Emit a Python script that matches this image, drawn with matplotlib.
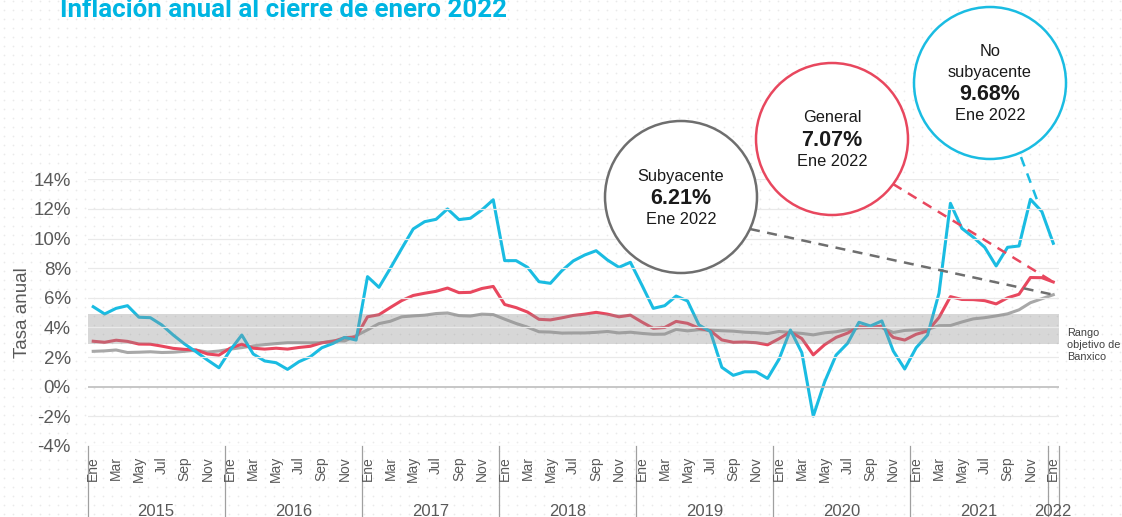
import numpy as np
import matplotlib
matplotlib.use("Agg")
import matplotlib.pyplot as plt
from matplotlib.patches import Circle

# --- data (annual inflation, %), Ene 2015 .. Ene 2022 ---
years = [2015, 2016, 2017, 2018, 2019, 2020, 2021, 2022]
month_names = ["Ene", "Feb", "Mar", "Abr", "May", "Jun",
               "Jul", "Ago", "Sep", "Oct", "Nov", "Dic"]

general = [
    3.07, 3.00, 3.14, 3.06, 2.88, 2.87, 2.74, 2.59, 2.52, 2.48, 2.21, 2.13,
    2.61, 2.87, 2.60, 2.54, 2.60, 2.54, 2.65, 2.73, 2.97, 3.06, 3.31, 3.36,
    4.72, 4.86, 5.35, 5.82, 6.16, 6.31, 6.44, 6.66, 6.35, 6.37, 6.63, 6.77,
    5.55, 5.34, 5.04, 4.55, 4.51, 4.65, 4.81, 4.90, 5.02, 4.90, 4.72, 4.83,
    4.37, 3.94, 4.00, 4.41, 4.28, 3.95, 3.78, 3.16, 3.00, 3.02, 2.97, 2.83,
    3.24, 3.70, 3.25, 2.15, 2.84, 3.33, 3.62, 4.05, 4.01, 4.09, 3.33, 3.15,
    3.54, 3.76, 4.67, 6.08, 5.89, 5.88, 5.81, 5.59, 6.00, 6.24, 7.37, 7.36,
    7.07]

subyacente = [
    2.39, 2.42, 2.48, 2.31, 2.33, 2.36, 2.31, 2.33, 2.39, 2.47, 2.34, 2.41,
    2.54, 2.64, 2.76, 2.84, 2.91, 2.97, 2.97, 2.96, 2.97, 3.10, 3.09, 3.44,
    3.84, 4.26, 4.42, 4.72, 4.78, 4.83, 4.94, 4.98, 4.80, 4.77, 4.90, 4.87,
    4.56, 4.27, 4.02, 3.71, 3.69, 3.62, 3.63, 3.63, 3.67, 3.73, 3.63, 3.68,
    3.60, 3.54, 3.55, 3.87, 3.77, 3.85, 3.82, 3.78, 3.75, 3.68, 3.65, 3.59,
    3.73, 3.66, 3.60, 3.50, 3.64, 3.71, 3.85, 3.97, 3.99, 3.98, 3.66, 3.80,
    3.84, 3.87, 4.12, 4.13, 4.37, 4.58, 4.66, 4.78, 4.92, 5.19, 5.67, 5.94,
    6.21]

no_subyacente = [
    5.40, 4.91, 5.29, 5.47, 4.69, 4.66, 4.17, 3.49, 2.88, 2.36, 1.80, 1.28,
    2.48, 3.49, 2.21, 1.74, 1.62, 1.17, 1.69, 2.03, 2.63, 2.93, 3.33, 3.15,
    7.43, 6.71, 8.00, 9.34, 10.65, 11.14, 11.30, 12.00, 11.28, 11.37, 11.93, 12.62,
    8.51, 8.51, 8.06, 7.09, 6.98, 7.83, 8.49, 8.89, 9.18, 8.55, 8.06, 8.40,
    6.87, 5.29, 5.47, 6.12, 5.79, 4.17, 3.72, 1.31, 0.77, 1.01, 1.01, 0.56,
    1.85, 3.83, 2.30, -1.98, 0.34, 2.14, 2.93, 4.35, 4.10, 4.44, 2.41, 1.20,
    2.63, 3.49, 6.31, 12.38, 10.69, 10.09, 9.41, 8.15, 9.41, 9.50, 12.65, 11.82,
    9.68]

band_low, band_high = 2.9, 4.9   # rango objetivo de Banxico (as drawn)
y_ticks = [-4, -2, 0, 2, 4, 6, 8, 10, 12, 14]

CYAN = "#1ABCE2"
RED = "#E8475E"
GRAY = "#A8A8A8"
TXT = "#595959"

W, H = 1122, 517
fig = plt.figure(figsize=(W / 100, H / 100), dpi=100)
fig.patch.set_facecolor("white")

# faint dotted background
bg = fig.add_axes([0, 0, 1, 1], zorder=0)
bg.set_xlim(0, W)
bg.set_ylim(0, H)
bg.axis("off")
gx, gy = np.meshgrid(np.arange(4, W, 9), np.arange(3, H, 9))
bg.scatter(gx.ravel(), gy.ravel(), s=1.5, color="#EAEAEA", linewidths=0)

# main plot
ax = fig.add_axes([87.5 / W, 1 - 446 / H, (1059 - 87.5) / W, (446 - 179.3) / H], zorder=1)
ax.patch.set_alpha(0)
n = len(general)
x = np.arange(n)
ax.set_xlim(-0.5, n - 0.5)
ax.set_ylim(-4, 14)

for t in y_ticks:
    ax.axhline(t, color="#BDBDBD" if t == 0 else "#E9E9E9",
               lw=1.2 if t == 0 else 0.9, zorder=3)

ax.plot(x, subyacente, color=GRAY, lw=2.2, zorder=2)
ax.plot(x, general, color=RED, lw=2.2, zorder=2)
ax.plot(x, no_subyacente, color=CYAN, lw=2.2, zorder=2)
ax.axhspan(band_low, band_high, color="#8F8F8F", alpha=0.35, lw=0, zorder=2.5)

ax.set_yticks(y_ticks)
ax.set_yticklabels([f"{t}%" for t in y_ticks], fontsize=13.5, color=TXT,
                   family="Liberation Sans")
ax.tick_params(axis="y", length=0, pad=12)
ax.set_xticks([])
for s in ax.spines.values():
    s.set_visible(False)
ax.set_ylabel("Tasa anual", fontsize=13.5, color=TXT, family="Liberation Sans",
              labelpad=2)

# month labels, year labels and separators
for i in range(n):
    if i % 2 == 0:
        ax.text(i, -0.038, month_names[i % 12], transform=ax.get_xaxis_transform(),
                rotation=90, ha="center", va="top", fontsize=10, color=TXT,
                family="Liberation Sans")
sep_x = [-0.5 + 12 * k for k in range(len(years))] + [n - 0.5]
for sx in sep_x:
    ax.plot([sx, sx], [0, -0.27], transform=ax.get_xaxis_transform(),
            color="#A0A0A0", lw=0.9, clip_on=False)
for k, yr in enumerate(years):
    x0 = sep_x[k]
    x1 = sep_x[k + 1]
    ax.text((x0 + x1) / 2, -0.245, str(yr), transform=ax.get_xaxis_transform(),
            ha="center", va="center", fontsize=12, color=TXT,
            family="Liberation Sans")

ax.text(1.008, 0.38, "Rango\nobjetivo de\nBanxico", transform=ax.transAxes,
        ha="left", va="center", fontsize=7.8, color="#404040",
        family="Liberation Sans", linespacing=1.25)

# title
fig.text(60 / W, 1 - 17 / H, "Inflación anual al cierre de enero 2022",
         ha="left", va="baseline", fontsize=18.6, fontweight="bold",
         color="#00B5E2", family="Roboto")

# callout circles (overlay in pixel coords)
ov = fig.add_axes([0, 0, 1, 1], zorder=5)
ov.set_xlim(0, W)
ov.set_ylim(0, H)
ov.axis("off")
ov.patch.set_alpha(0)

fig.canvas.draw()
def data_px(xi, yi):
    dx, dy = ax.transData.transform((xi, yi))
    return dx, dy

last = n - 1
callouts = [
    # center (px from top-left), edge color, lines, value, series, dash start
    ((681, 197), "#6E6E6E", ["Subyacente"], subyacente[last], subyacente, (750, 229), 1.0),
    ((832, 139), RED, ["General"], general[last], general, (893, 184), 1.0),
    ((990, 83), CYAN, ["No", "subyacente"], no_subyacente[last], no_subyacente, (1021, 157), 0.55),
]
for (cx, cy), ec, lines, val, series, (sx, sy), frac in callouts:
    cyb = H - cy
    ov.add_patch(Circle((cx, cyb), 76, facecolor="white", edgecolor=ec, lw=1.8, zorder=2))
    ex, ey = data_px(last, series[last])
    syb = H - sy
    ov.plot([sx, sx + (ex - sx) * frac], [syb, syb + (ey - syb) * frac],
            color=ec, lw=1.8, ls=(0, (4, 3)), zorder=1)
    nlines = len(lines) + 2
    step = 21
    y_top = cyb + step * (nlines - 1) / 2
    for j, ln in enumerate(lines):
        ov.text(cx, y_top - j * step, ln, ha="center", va="center", fontsize=11.8,
                color="#1A1A1A", family="Liberation Sans", zorder=3)
    ov.text(cx, y_top - len(lines) * step - 1, f"{val:.2f}%", ha="center", va="center",
            fontsize=15.5, fontweight="bold", color="#1A1A1A", family="Liberation Sans", zorder=3)
    ov.text(cx, y_top - (len(lines) + 1) * step - 1, "Ene 2022", ha="center", va="center",
            fontsize=11.8, color="#1A1A1A", family="Liberation Sans", zorder=3)

fig.savefig("out.png", dpi=100)
